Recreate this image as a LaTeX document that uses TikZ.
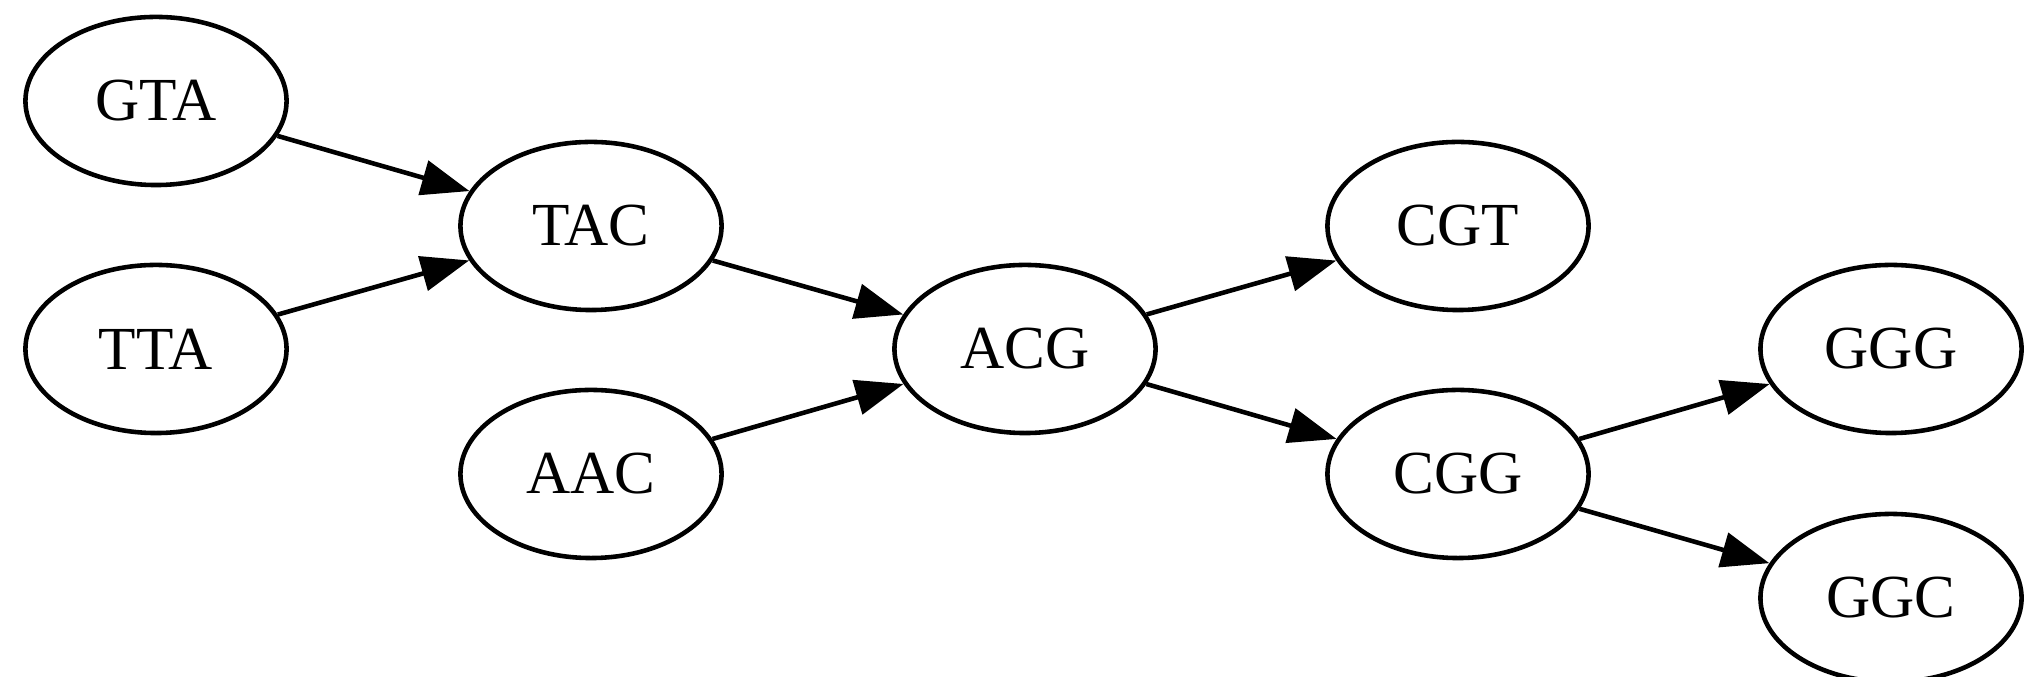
\documentclass[tikz,border=0pt]{standalone}
\usepackage{fontspec}
\setmainfont{Liberation Serif}
\usetikzlibrary{shapes.geometric,arrows.meta}
\begin{document}
\begin{tikzpicture}[x=0.01cm,y=-0.01cm,
  kmer/.style={draw=black,line width=1.3pt,ellipse,minimum width=2.61cm,minimum height=1.68cm,inner sep=0pt,font=\fontsize{17.4}{20}\selectfont},
  edge/.style={draw=black,line width=1.3pt,-{Triangle[length=0.48cm,width=0.35cm]}}]
\clip (0,0) rectangle (2027,677);
\fill[white] (0,0) rectangle (2027,677);
\node[kmer] (GTA) at (156,101) {GTA};
\node[kmer] (TTA) at (156,349) {TTA};
\node[kmer] (TAC) at (591,226) {TAC};
\node[kmer] (AAC) at (591,474) {AAC};
\node[kmer] (ACG) at (1025,349) {ACG};
\node[kmer] (CGT) at (1458,226) {CGT};
\node[kmer] (CGG) at (1458,474) {CGG};
\node[kmer] (GGG) at (1891,349) {GGG};
\node[kmer] (GGC) at (1891,598) {GGC};
\draw[edge] (GTA) -- (TAC);
\draw[edge] (TTA) -- (TAC);
\draw[edge] (TAC) -- (ACG);
\draw[edge] (AAC) -- (ACG);
\draw[edge] (ACG) -- (CGT);
\draw[edge] (ACG) -- (CGG);
\draw[edge] (CGG) -- (GGG);
\draw[edge] (CGG) -- (GGC);
\end{tikzpicture}
\end{document}
